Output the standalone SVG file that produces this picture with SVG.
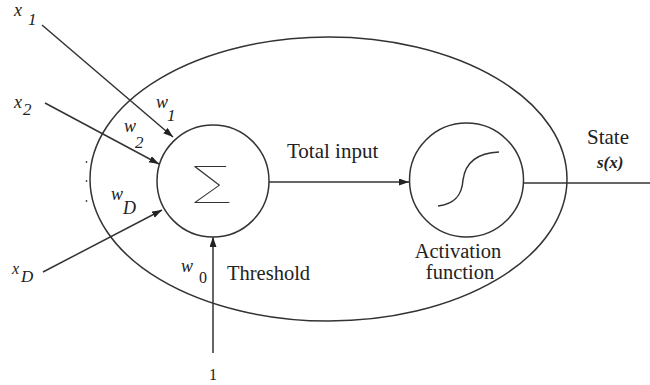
<svg xmlns="http://www.w3.org/2000/svg" width="650" height="385" viewBox="0 0 650 385">
<style>
.ln{fill:none;stroke:#333;stroke-width:1.5}
.t{font-family:"Liberation Serif","Times New Roman",serif;fill:#222}
.i{font-style:italic}
</style>
<defs>
<marker id="ah" markerUnits="userSpaceOnUse" markerWidth="11" markerHeight="8" refX="10" refY="3.5" orient="auto">
<path d="M0,0 L10,3.5 L0,7 z" fill="#222"/>
</marker>
</defs>
<rect width="650" height="385" fill="#fff"/>
<g id="neuron-body">
<ellipse class="ln" cx="328.5" cy="179" rx="238.5" ry="142"/>
</g>
<g id="sum-node">
<circle class="ln" cx="213" cy="181" r="56"/>
<text transform="translate(213,197) scale(1.55,1)" x="0" y="0" font-size="42" text-anchor="middle" style="font-family:Inter,'DejaVu Sans',sans-serif;font-weight:100;fill:#333">∑</text>
</g>
<g id="activation-node">
<circle class="ln" cx="466.5" cy="180" r="57"/>
<path class="ln" d="M438,206 C456,204 462,194 463,180 C465,165 475,153 499,152"/>
<text class="t" x="458" y="258" font-size="20.5" text-anchor="middle">Activation</text>
<text class="t" x="460" y="279" font-size="20.5" text-anchor="middle">function</text>
</g>
<g id="connectors">
<line class="ln" x1="42" y1="25" x2="173" y2="137" marker-end="url(#ah)"/>
<line class="ln" x1="45" y1="103" x2="159" y2="164" marker-end="url(#ah)"/>
<line class="ln" x1="43" y1="272" x2="162" y2="210" marker-end="url(#ah)"/>
<line class="ln" x1="213" y1="353" x2="213" y2="237" marker-end="url(#ah)"/>
<line class="ln" x1="269" y1="182" x2="409" y2="182" marker-end="url(#ah)"/>
<line class="ln" x1="524" y1="183" x2="650" y2="183"/>
</g>
<g id="labels">
<text class="t i" x="14" y="16" font-size="18">x</text>
<text class="t i" x="28" y="25" font-size="17">1</text>
<text class="t i" x="14" y="108" font-size="18">x</text>
<text class="t i" x="23" y="115" font-size="17">2</text>
<text class="t i" x="12" y="274" font-size="16">x</text>
<text class="t i" x="21" y="282" font-size="17">D</text>
<text class="t i" x="156" y="108" font-size="18">w</text>
<text class="t i" x="167" y="121" font-size="17">1</text>
<text class="t i" x="124" y="132" font-size="18">w</text>
<text class="t i" x="135" y="148" font-size="17">2</text>
<text class="t i" x="111" y="200" font-size="18">w</text>
<text class="t i" x="123" y="214" font-size="18">D</text>
<text class="t i" x="181" y="272" font-size="18">w</text>
<text class="t" x="199" y="283" font-size="16">0</text>
<circle cx="86.5" cy="162" r="0.9" fill="#444"/>
<circle cx="86.5" cy="181" r="0.9" fill="#444"/>
<circle cx="86.5" cy="201" r="0.9" fill="#444"/>
<text class="t" x="227" y="280" font-size="20.5">Threshold</text>
<text class="t" x="287" y="158" font-size="21">Total input</text>
<text class="t" x="587" y="144" font-size="21">State</text>
<text class="t i" x="597" y="168" font-size="17" font-weight="bold">s(x)</text>
<text class="t" x="213" y="380" font-size="16" text-anchor="middle">1</text>
</g>
</svg>
